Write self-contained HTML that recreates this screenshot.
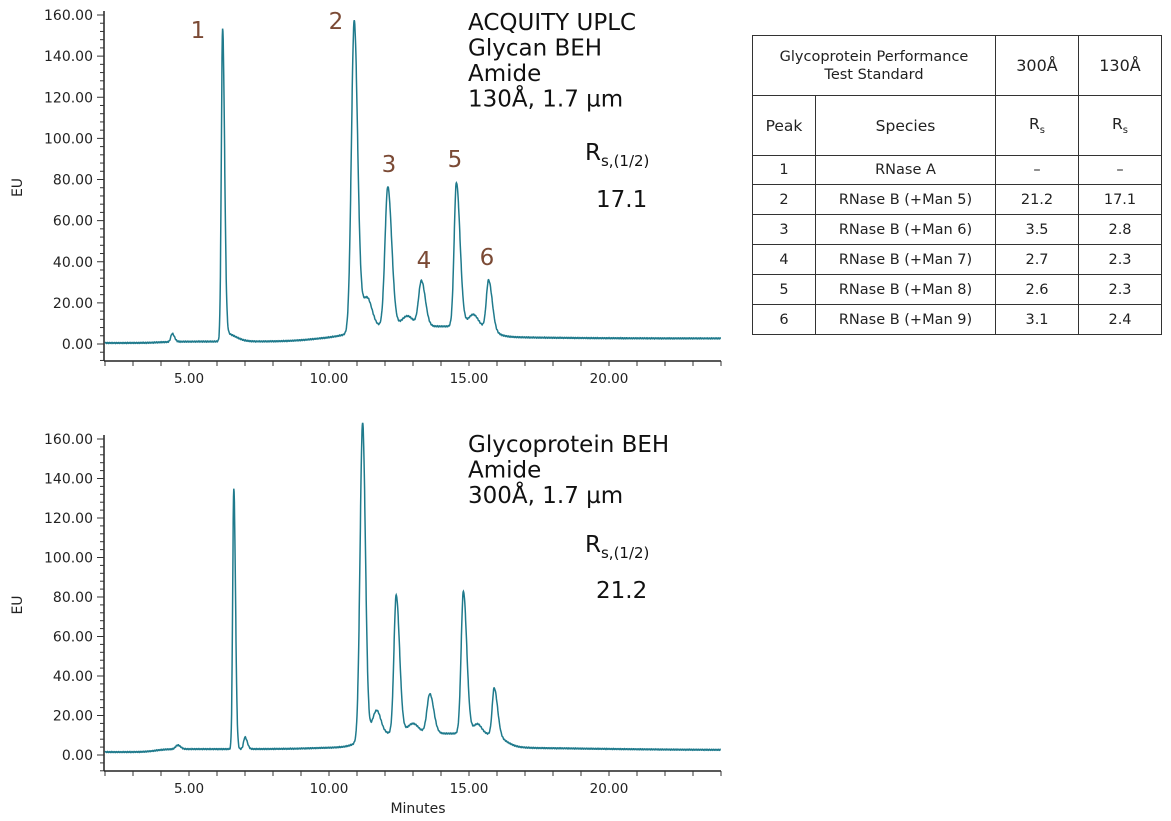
<!DOCTYPE html>
<html><head><meta charset="utf-8"><style>
body{margin:0;background:#fff;width:1171px;height:821px;overflow:hidden;font-family:"Liberation Sans","DejaVu Sans",sans-serif}
svg{position:absolute;left:0;top:0}
table{position:absolute;left:752px;top:35px;border-collapse:collapse;font-family:"DejaVu Sans","Liberation Sans",sans-serif;font-size:14.5px;color:#222}
td{border:1.5px solid #333;text-align:center;padding:0}
</style></head><body>
<svg id="s" width="1171" height="821" xmlns="http://www.w3.org/2000/svg" font-family="DejaVu Sans, Liberation Sans, sans-serif"></svg>
<table>
<tr style="height:60px"><td colspan="2" style="width:242px;line-height:18px">Glycoprotein Performance<br>Test Standard</td><td style="width:82px;font-size:16px">300Å</td><td style="width:82px;font-size:16px">130Å</td></tr>
<tr style="height:60px"><td style="width:62px;font-size:15.5px">Peak</td><td style="width:179px;font-size:15.5px">Species</td><td style="font-size:15.5px">R<sub style="font-size:10px">s</sub></td><td style="font-size:15.5px">R<sub style="font-size:10px">s</sub></td></tr>
<tr style="height:29px"><td>1</td><td>RNase A</td><td>–</td><td>–</td></tr>
<tr style="height:30px"><td>2</td><td>RNase B (+Man 5)</td><td>21.2</td><td>17.1</td></tr>
<tr style="height:30px"><td>3</td><td>RNase B (+Man 6)</td><td>3.5</td><td>2.8</td></tr>
<tr style="height:30px"><td>4</td><td>RNase B (+Man 7)</td><td>2.7</td><td>2.3</td></tr>
<tr style="height:30px"><td>5</td><td>RNase B (+Man 8)</td><td>2.6</td><td>2.3</td></tr>
<tr style="height:30px"><td>6</td><td>RNase B (+Man 9)</td><td>3.1</td><td>2.4</td></tr>
</table>
<script>
var s=document.getElementById('s'),h='';
function sig(t,c,w){return 1/(1+Math.exp(-(t-c)/w))}
function chart(y0,y160,axY,peaks,base){
 var sc=(y0-y160)/160,px=function(t){return 105+(t-2)*28};
 h+='<line x1="104" y1="'+(y160-4)+'" x2="104" y2="'+axY+'" stroke="#222" stroke-width="1.5"/>';
 h+='<line x1="104" y1="'+axY+'" x2="721" y2="'+axY+'" stroke="#222" stroke-width="1.5"/>';
 for(var v=-8;v<=160;v+=4){var yy=y0-v*sc,m=v%20==0;h+='<line x1="'+(m?97:100)+'" y1="'+yy+'" x2="104" y2="'+yy+'" stroke="#333"/>';
  if(m&&v>=0)h+='<text x="93" y="'+(yy+5)+'" font-size="14" text-anchor="end" fill="#222">'+v.toFixed(2)+'</text>';}
 for(var t=2;t<=24;t++){var xx=px(t);h+='<line x1="'+xx+'" y1="'+axY+'" x2="'+xx+'" y2="'+(axY+5)+'" stroke="#333"/>';
  if(t%5==0)h+='<text x="'+xx+'" y="'+(axY+22)+'" font-size="13.5" text-anchor="middle" fill="#222">'+t.toFixed(2)+'</text>';}
 h+='<text x="22" y="'+(y0-160*sc/2+8)+'" font-size="14" transform="rotate(-90 22 '+(y0-160*sc/2+8)+')" text-anchor="middle" fill="#222">EU</text>';
 var d='';
 for(var t=2;t<=24;t+=0.01){var v=base(t);peaks.forEach(function(p){var w=t<p[0]?p[2]:p[3];v+=p[1]*Math.exp(-Math.pow((t-p[0])/w,2)/2)});
  v+=Math.sin(t*97)*0.25;d+=(d?'L':'M')+px(t).toFixed(1)+','+(y0-v*sc).toFixed(1);}
 h+='<path d="'+d+'" fill="none" stroke="#1f7a8c" stroke-width="1.5"/>';
}
chart(344,15,361,[[4.4,4,0.05,0.08],[6.2,150,0.045,0.07],[6.3,4,0.1,0.35],[10.9,150,0.1,0.12],[11.35,15,0.2,0.18],[12.1,68,0.1,0.14],[12.8,5,0.2,0.2],[13.3,22,0.1,0.14],[14.55,70,0.08,0.13],[15.15,6,0.18,0.18],[15.7,24,0.08,0.13]],
 function(t){return 0.5+0.7*sig(t,4,0.3)+2.5*sig(t,9.5,0.5)+5*sig(t,10.9,0.3)*(1-sig(t,15.9,0.2))-1*sig(t,17,1.5);});
chart(755,439,771,[[4.6,2,0.08,0.1],[6.6,132,0.04,0.06],[7.0,6,0.05,0.08],[11.2,160,0.09,0.1],[11.7,12,0.15,0.15],[12.4,70,0.08,0.12],[13.0,5,0.2,0.2],[13.6,20,0.1,0.14],[14.8,72,0.08,0.12],[15.3,5,0.15,0.15],[15.9,24,0.07,0.12]],
 function(t){return 1.5+1.5*sig(t,3.8,0.2)+1*sig(t,9.5,0.6)+7*sig(t,11.1,0.2)*(1-sig(t,16.3,0.2))-1.5*sig(t,19,2);});
h+='<text x="418" y="813" font-size="14" text-anchor="middle" fill="#222">Minutes</text>';
var br='fill="#7b4a35" font-size="23"';
[[198,38,'1'],[336,29,'2'],[389,172,'3'],[424,268,'4'],[455,167,'5'],[487,265,'6']].forEach(function(a){h+='<text x="'+a[0]+'" y="'+a[1]+'" '+br+' text-anchor="middle">'+a[2]+'</text>'});
var tx='font-size="23" fill="#111"';
['ACQUITY UPLC','Glycan BEH','Amide','130Å, 1.7 µm'].forEach(function(l,i){h+='<text x="468" y="'+(30+i*25.5)+'" '+tx+'>'+l+'</text>'});
['Glycoprotein BEH','Amide','300Å, 1.7 µm'].forEach(function(l,i){h+='<text x="468" y="'+(452+i*25.5)+'" '+tx+'>'+l+'</text>'});
h+='<text x="585" y="160" '+tx+'>R<tspan font-size="15" dy="6">s,(1/2)</tspan></text><text x="596" y="207" '+tx+'>17.1</text>';
h+='<text x="585" y="552" '+tx+'>R<tspan font-size="15" dy="6">s,(1/2)</tspan></text><text x="596" y="598" '+tx+'>21.2</text>';
s.innerHTML=h;
</script>
</body></html>
